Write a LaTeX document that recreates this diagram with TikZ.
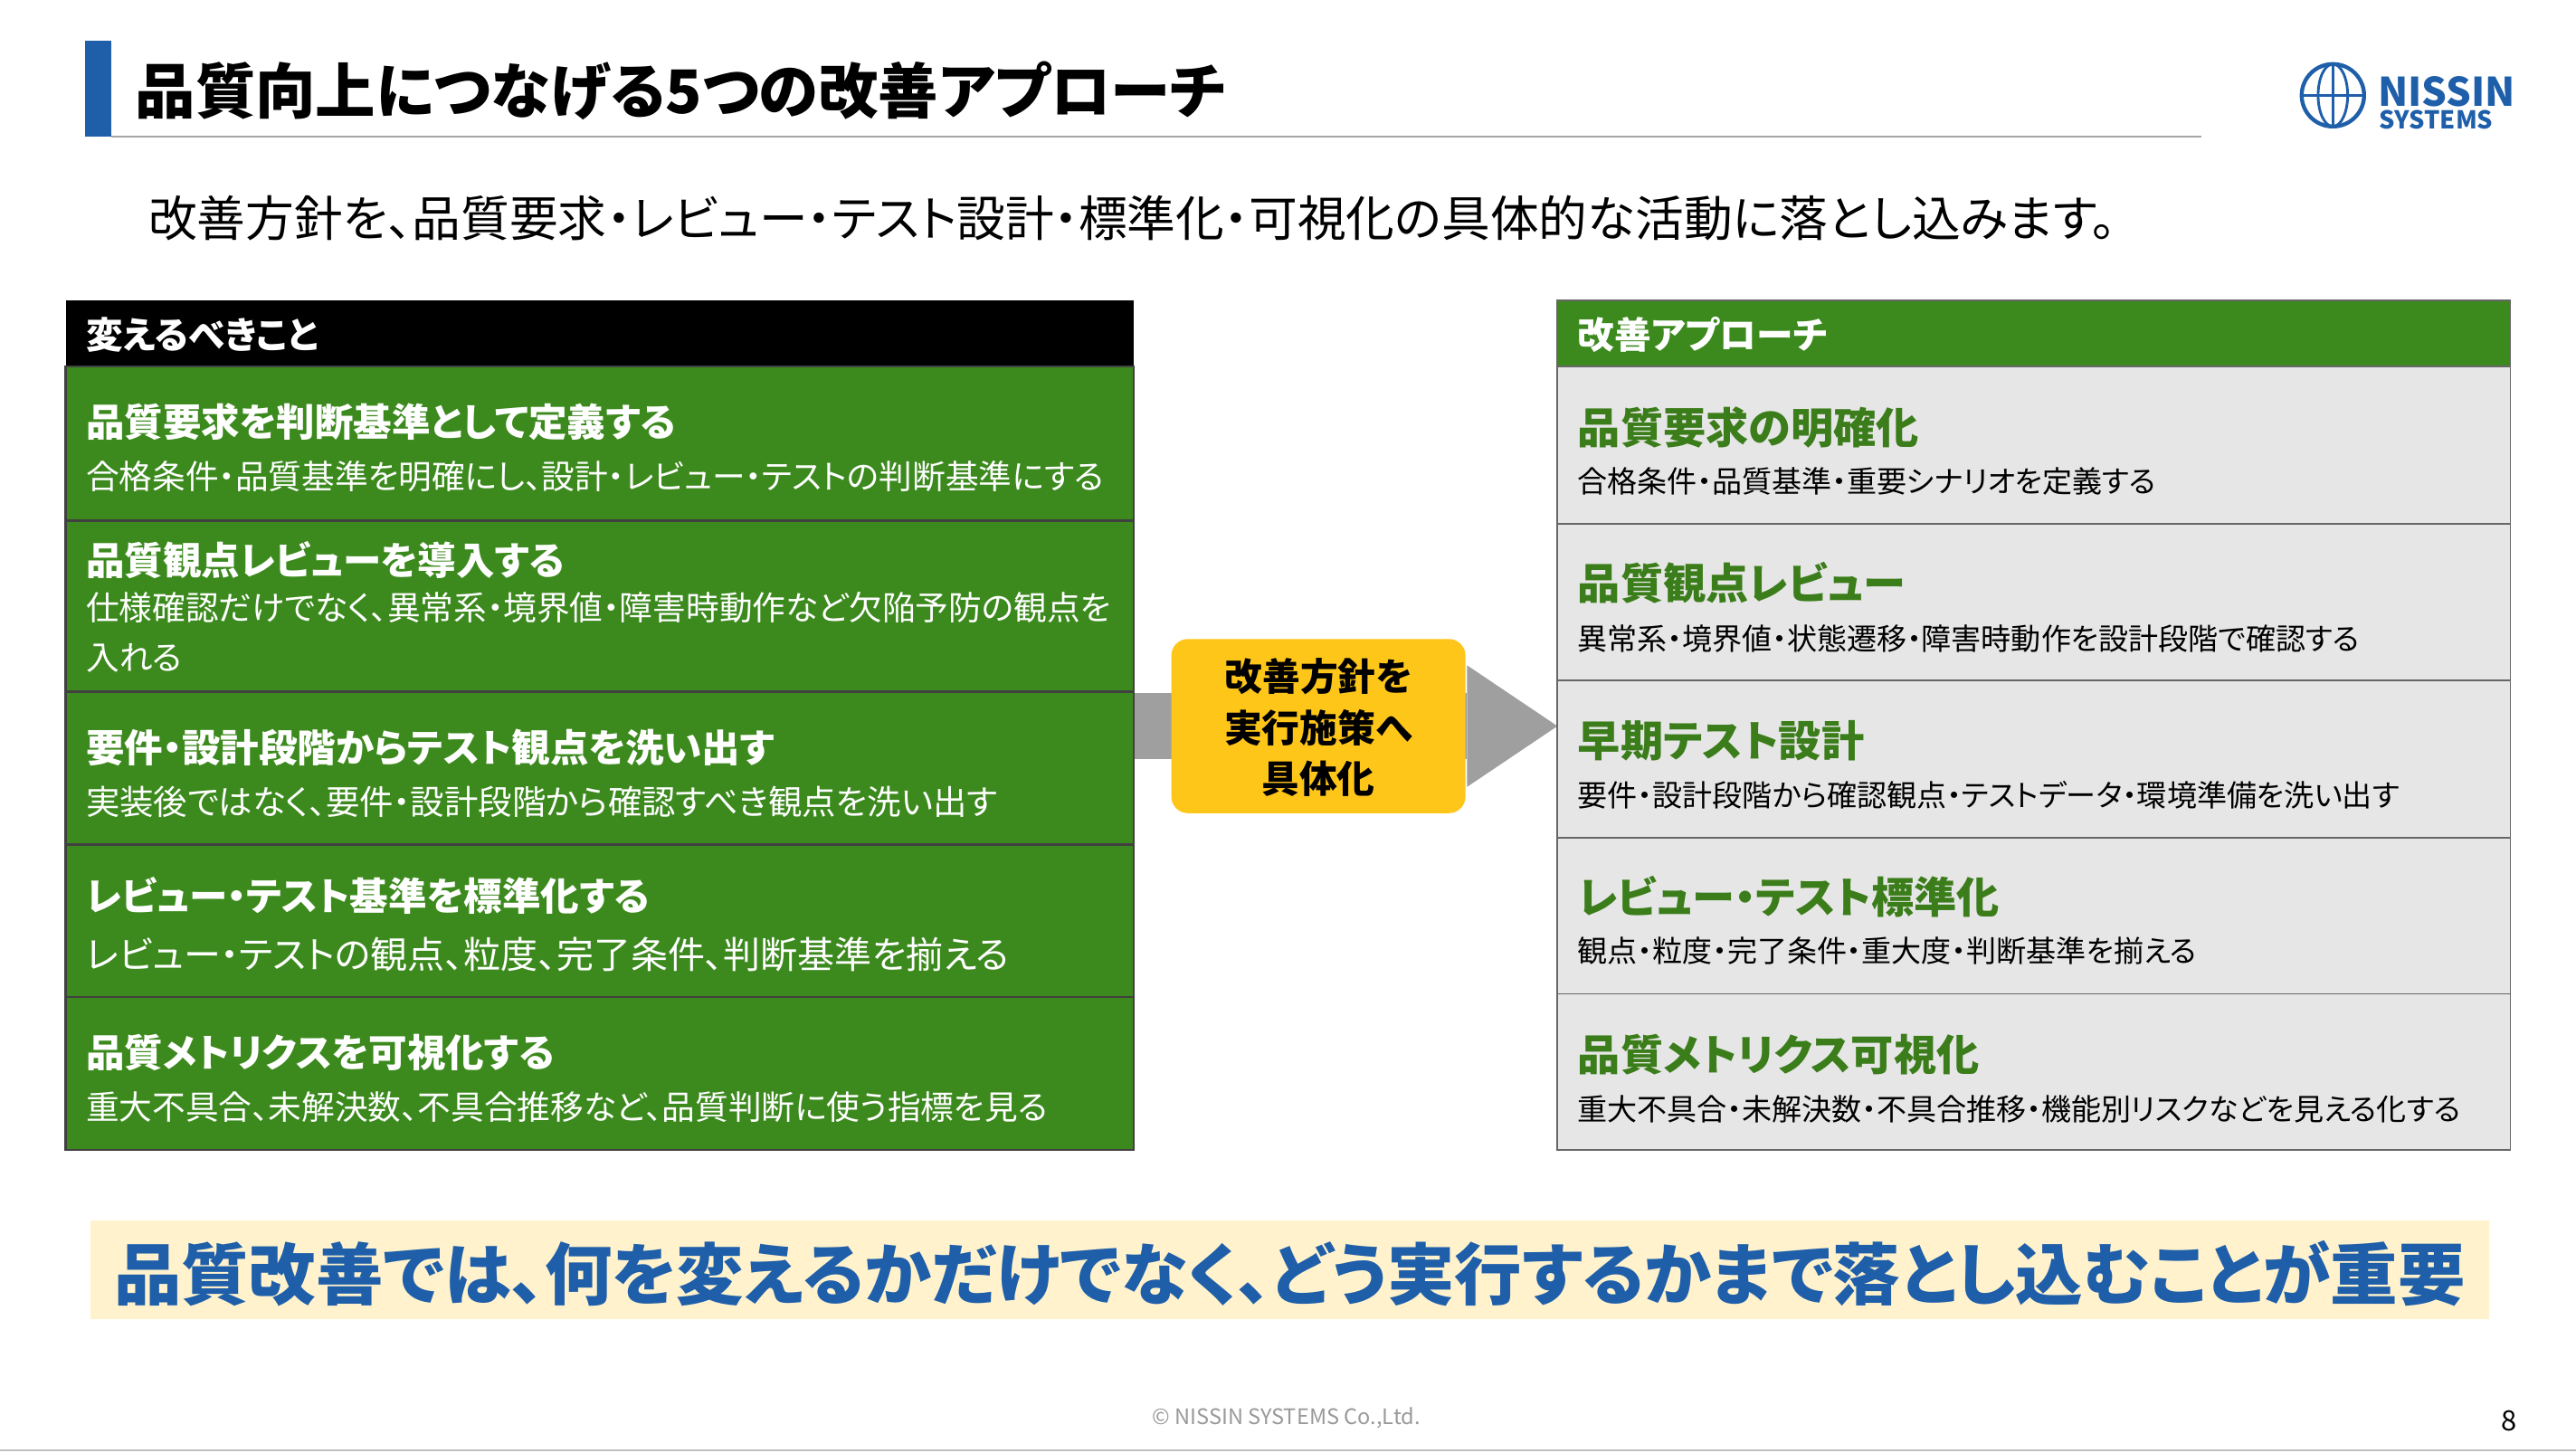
\documentclass[tikz,border=0pt]{standalone}
\usepackage{fontspec}
\setmainfont{Noto Sans CJK JP}[RawFeature=+palt]
\definecolor{grn}{HTML}{3C8A1E}
\definecolor{dgrn}{HTML}{3B7D1A}
\definecolor{blu}{HTML}{1F5FAA}
\definecolor{rowg}{HTML}{E6E6E6}
\definecolor{yel}{HTML}{FFC61A}
\definecolor{lyel}{HTML}{FFF2CC}
\tikzset{
 fs/.style={font=\fontsize{#1pt}{\dimexpr #1pt*135/100\relax}\selectfont},
 fsb/.style={font=\fontsize{#1pt}{\dimexpr #1pt*135/100\relax}\selectfont\bfseries},
 lt/.style={anchor=west,inner sep=0,text=white,fsb=11.7},
 ld/.style={anchor=west,inner sep=0,text=white,fs=10.1,align=left},
 rt/.style={anchor=west,inner sep=0,text=dgrn,fsb=13},
 rd/.style={anchor=west,inner sep=0,text=black,fs=9.1},
}
\begin{document}
\begin{tikzpicture}[x=0.5pt,y=-0.5pt]
\useasboundingbox (0,0) rectangle (1568,884.5);
\fill[white] (0,0) rectangle (1568,884.5);
% title
\fill[blu] (52,25) rectangle (68,83);
\node[anchor=west,inner sep=0,fsb=18.3] (title) at (82,55) {品質向上につなげる5つの改善アプローチ};
\draw[gray!70,line width=0.5pt] (68,83) -- (1340,83);
% logo
\draw[blu,line width=1.2pt] (1420,58) circle (19);
\draw[blu,line width=0.8pt] (1420,39) -- (1420,77) (1401,58) -- (1439,58);
\draw[blu,line width=0.8pt] (1420,58) ellipse (9 and 19);
\node[anchor=west,inner sep=0,text=blu,fsb=12] (logo1) at (1447,56) {NISSIN};
\node[anchor=west,inner sep=0,text=blu,fsb=7.5] (logo2) at (1448,73) {SYSTEMS};
% subtitle
\node[anchor=west,inner sep=0,fs=14.8] (sub) at (90,133) {改善方針を、品質要求・レビュー・テスト設計・標準化・可視化の具体的な活動に落とし込みます。};
% middle arrow
\fill[gray!75] (690,422) rectangle (893,462);
\fill[gray!75] (893,405) -- (948,442) -- (893,479) -- cycle;
\fill[yel,rounded corners=5pt] (713,389) rectangle (892,495);
\node[inner sep=0,fsb=11.5,align=center] (mid) at (802.5,443) {改善方針を\\実行施策へ\\具体化};
% left table
\fill[black] (40,183) rectangle (690,223);
\node[anchor=west,inner sep=0,text=white,fsb=11.2] (lh) at (52,204) {変えるべきこと};
\foreach \a/\b in {223/317,317/421,421/514,514/607,607/700}
  \draw[fill=grn,draw=black!75,line width=0.7pt] (40,\a) rectangle (690,\b);
\node[lt] (l1t) at (52,257) {品質要求を判断基準として定義する};
\node[ld] (l1d) at (52,290) {合格条件・品質基準を明確にし、設計・レビュー・テストの判断基準にする};
\node[lt] (l2t) at (52,341) {品質観点レビューを導入する};
\node[ld,anchor=north west,font=\fontsize{10.1pt}{15pt}\selectfont] (l2d) at (52,360) {仕様確認だけでなく、異常系・境界値・障害時動作など欠陥予防の観点を\\入れる};
\node[lt] (l3t) at (52,455) {要件・設計段階からテスト観点を洗い出す};
\node[ld,fs=10.3] (l3d) at (52,488) {実装後ではなく、要件・設計段階から確認すべき観点を洗い出す};
\node[lt] (l4t) at (52,545) {レビュー・テスト基準を標準化する};
\node[ld,fs=11.3] (l4d) at (52,581) {レビュー・テストの観点、粒度、完了条件、判断基準を揃える};
\node[lt] (l5t) at (52,641) {品質メトリクスを可視化する};
\node[ld] (l5d) at (52,674) {重大不具合、未解決数、不具合推移など、品質判断に使う指標を見る};
% right table
\fill[grn] (948,183) rectangle (1528,223);
\draw[black!60,line width=0.5pt] (948,183) rectangle (1528,223);
\node[anchor=west,inner sep=0,text=white,fsb=11.2] (rh) at (960,204) {改善アプローチ};
\foreach \a/\b in {223/319,319/414,414/510,510/605,605/700}
  \draw[fill=rowg,draw=black!60,line width=0.5pt] (948,\a) rectangle (1528,\b);
\node[rt] (r1t) at (960,260) {品質要求の明確化};
\node[rd] (r1d) at (960,293) {合格条件・品質基準・重要シナリオを定義する};
\node[rt] (r2t) at (960,355) {品質観点レビュー};
\node[rd] (r2d) at (960,389) {異常系・境界値・状態遷移・障害時動作を設計段階で確認する};
\node[rt] (r3t) at (960,451) {早期テスト設計};
\node[rd] (r3d) at (960,484) {要件・設計段階から確認観点・テストデータ・環境準備を洗い出す};
\node[rt] (r4t) at (960,546) {レビュー・テスト標準化};
\node[rd] (r4d) at (960,579) {観点・粒度・完了条件・重大度・判断基準を揃える};
\node[rt] (r5t) at (960,642) {品質メトリクス可視化};
\node[rd] (r5d) at (960,675) {重大不具合・未解決数・不具合推移・機能別リスクなどを見える化する};
% banner
\fill[lyel] (55,743) rectangle (1515,803);
\node[inner sep=0,text=blu,fsb=20.5] (ban) at (785,775) {品質改善では、何を変えるかだけでなく、どう実行するかまで落とし込むことが重要};
% footer
\node[inner sep=0,text=gray!80,fs=6.5] (foot) at (783,863) {© NISSIN SYSTEMS Co.,Ltd.};
\node[inner sep=0,fs=8.5] (pg) at (1527,865) {8};
\draw[gray!50,line width=0.5pt] (0,883) -- (1568,883);
\end{tikzpicture}
\end{document}
